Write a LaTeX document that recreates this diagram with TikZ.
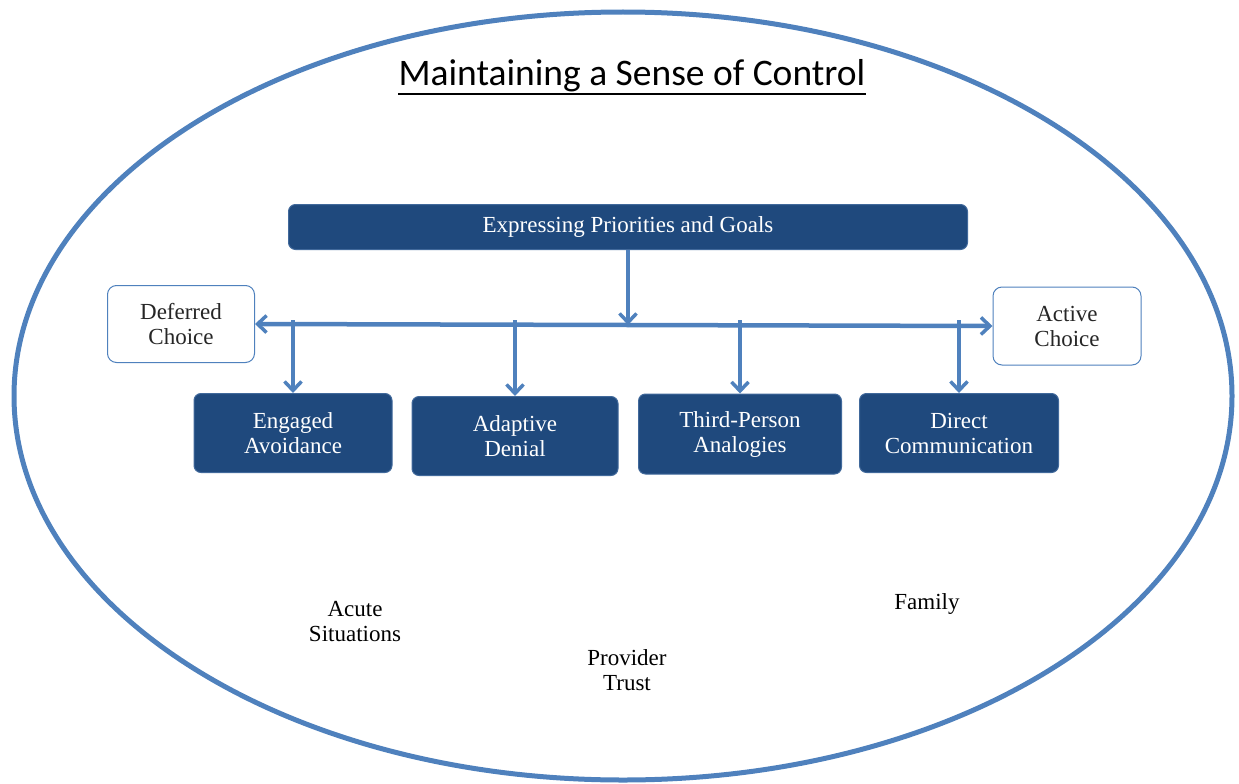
\documentclass[tikz,border=0pt]{standalone}
\usepackage{fontspec}
\setmainfont{Liberation Serif}
\newfontfamily\titlefont{Carlito}
\usetikzlibrary{arrows.meta}
\definecolor{darkbox}{RGB}{31,73,125}
\definecolor{boxline}{RGB}{65,105,155}
\definecolor{linkblue}{RGB}{79,129,189}
\newcommand{\boxfont}[0] {\fontsize{23}{25}\selectfont}

\begin{document}
\begin{tikzpicture}[x=1pt,y=-1pt,
    darknode/.style={shape=rectangle,rounded corners=7pt,draw=boxline,line width=1pt,fill=darkbox,text=white,align=center,font=\boxfont},
    lightnode/.style={shape=rectangle,rounded corners=9pt,draw=linkblue,line width=1pt,fill=white,text=black!85,align=center,font=\boxfont},
    plainnode/.style={align=center,font=\boxfont,text=black},
    link/.style={draw=linkblue,line width=4.5pt,-{Straight Barb[length=9pt,width=17pt,line width=3.5pt]}}]
        \useasboundingbox (0,0) rectangle (1239,784);
        \draw[linkblue,line width=5pt] (623,396) ellipse[x radius=609,y radius=384];

        \node[font=\titlefont\fontsize{37.5}{40}\selectfont,inner sep=0pt] (title) at (632,76) {Maintaining a Sense of Control};
        %underline of the title
        \draw[black,line width=2.5pt] ([yshift=-8pt]title.base west) -- ([yshift=-8pt]title.base east);

        \node[darknode,minimum width=679,minimum height=45] (goals) at (628,227) {Expressing Priorities and Goals};
        \node[lightnode,minimum width=147,minimum height=77] (deferred) at (181,324) {Deferred\\Choice};
        \node[lightnode,minimum width=148,minimum height=78] (active) at (1067,326) {Active\\Choice};
        \node[darknode,minimum width=198,minimum height=79] (engaged) at (293,433) {Engaged\\Avoidance};
        \node[darknode,minimum width=206,minimum height=79] (denial) at (515,436) {Adaptive\\Denial};
        \node[darknode,minimum width=203,minimum height=80] (thirdp) at (740,434) {Third-Person\\Analogies};
        \node[darknode,minimum width=199,minimum height=79] (direct) at (959,433) {Direct\\Communication};

        \node[plainnode] (acute) at (355,622) {Acute\\Situations};
        \node[plainnode] (trust) at (627,670) {Provider\\Trust};
        \node[plainnode] (family) at (927,604) {Family};

        %branch points on the bar
        \coordinate (bar) at (628,325);
        \coordinate (b1) at (293,320);
        \coordinate (b2) at (515,320);
        \coordinate (b3) at (740,320);
        \coordinate (b4) at (959,320);

        %arrows
        \path[link] (goals) -- (bar);
        \path[link] (bar) -- (deferred.east);
        \path[link] (bar) -- (active.west);
        \path[link] (b1) -- (engaged.north);
        \path[link] (b2) -- (denial.north);
        \path[link] (b3) -- (thirdp.north);
        \path[link] (b4) -- (direct.north);
\end{tikzpicture}
\end{document}
